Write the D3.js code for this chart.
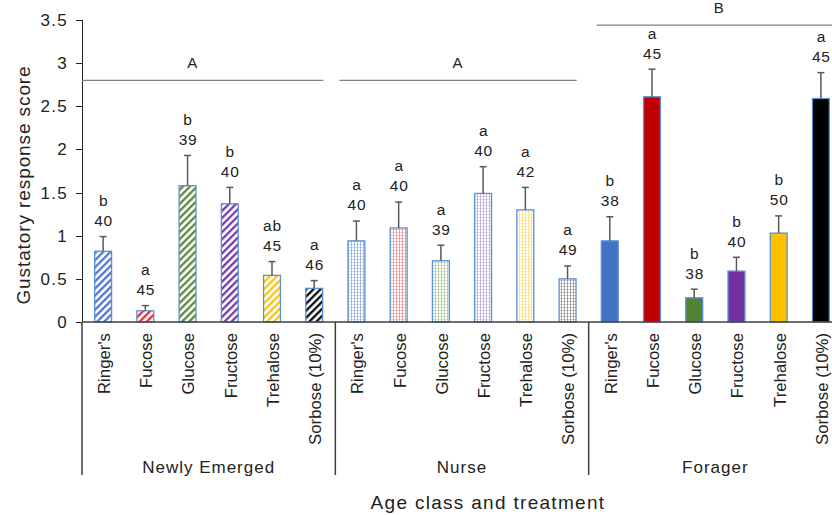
<!DOCTYPE html>
<html>
  <head>
    <meta charset="utf-8">
    <script src="https://cdn.jsdelivr.net/npm/d3@7"></script>
    <style type="text/css">
      body { margin: 0; background: #fff; }
      text { font-family: "Liberation Sans", Arial, sans-serif; fill: #222; }
      .axis path, .axis line { stroke: #222; shape-rendering: crispEdges; }
      .axis text { font-size: 17px; letter-spacing: 1.3px; }
    </style>
  </head>
  <body>
    <div class="plot_canvas"></div>
    <script>

    var groups = ["Newly Emerged", "Nurse", "Forager"];
    var treatments = ["Ringer's", "Fucose", "Glucose", "Fructose", "Trehalose", "Sorbose (10%)"];

    var newlyMean = [0.82, 0.13, 1.58, 1.37, 0.54, 0.39];
    var newlyErr  = [0.17, 0.06, 0.35, 0.19, 0.16, 0.09];
    var newlyN    = [40, 45, 39, 40, 45, 46];
    var newlySig  = ["b", "a", "b", "b", "ab", "a"];

    var nurseMean = [0.94, 1.09, 0.71, 1.49, 1.30, 0.50];
    var nurseErr  = [0.23, 0.30, 0.18, 0.31, 0.26, 0.15];
    var nurseN    = [40, 40, 39, 40, 42, 49];
    var nurseSig  = ["a", "a", "a", "a", "a", "a"];

    var foragerMean = [0.94, 2.61, 0.28, 0.59, 1.03, 2.59];
    var foragerErr  = [0.28, 0.32, 0.10, 0.16, 0.20, 0.30];
    var foragerN    = [38, 45, 38, 40, 50, 45];
    var foragerSig  = ["b", "a", "b", "b", "b", "a"];

    var groupLetters = ["A", "A", "B"];
    var groupLineAt  = [2.8, 2.8, 3.44];

    var yTicks = [0, 0.5, 1, 1.5, 2, 2.5, 3, 3.5];

    // colours per treatment
    var solidColors = ["#4472C4", "#C00000", "#548235", "#7030A0", "#FFC000", "#000000"];
    var hatchColors = ["#4472C4", "#E0202A", "#548235", "#7030A0", "#FFC000", "#000000"];
    var dotColors   = ["#6f93d6", "#e06666", "#8fb873", "#a58fd0", "#ffd24d", "#707070"];

    // build rows
    var means = [newlyMean, nurseMean, foragerMean];
    var errs = [newlyErr, nurseErr, foragerErr];
    var ns = [newlyN, nurseN, foragerN];
    var sigs = [newlySig, nurseSig, foragerSig];
    var rows = [];
    groups.forEach(function(g, gi) {
      treatments.forEach(function(t, ti) {
        rows.push({id: g + "|" + t, group: g, gi: gi, treat: t, ti: ti,
          mean: means[gi][ti], err: errs[gi][ti], n: ns[gi][ti], sig: sigs[gi][ti]});
      });
    });

    var W = 832, H = 515;
    var plotL = 82, plotR = 842, plotT = 20, plotB = 322;

    var xScale = d3.scaleBand()
      .domain(rows.map(function(d) { return d.id; }))
      .range([plotL, plotR])
      .paddingInner(0.6)
      .paddingOuter(0.3);

    var gScale = d3.scaleBand()
      .domain(groups)
      .range([plotL, plotR]);

    var yScale = d3.scaleLinear()
      .domain([0, 3.5])
      .range([plotB, plotT]);

    var svg = d3.select(".plot_canvas")
      .append("svg")
      .attr("width", W)
      .attr("height", H);

    // patterns
    var defs = svg.append("defs");
    hatchColors.forEach(function(c, i) {
      var p = defs.append("pattern")
        .attr("id", "hatch" + i)
        .attr("patternUnits", "userSpaceOnUse")
        .attr("width", 5).attr("height", 5)
        .attr("patternTransform", "rotate(45)");
      p.append("rect").attr("width", 5).attr("height", 5).attr("fill", "#fff");
      p.append("line").attr("x1", 1.2).attr("x2", 1.2).attr("y1", 0).attr("y2", 5)
        .attr("stroke", c).attr("stroke-width", 2.2);
    });
    dotColors.forEach(function(c, i) {
      var p = defs.append("pattern")
        .attr("id", "dots" + i)
        .attr("patternUnits", "userSpaceOnUse")
        .attr("width", 3).attr("height", 3);
      p.append("rect").attr("width", 3).attr("height", 3).attr("fill", "#fff");
      p.append("rect").attr("x", 0).attr("width", 1).attr("height", 3).attr("fill", c).attr("opacity", 0.6);
      p.append("rect").attr("y", 1).attr("width", 3).attr("height", 1).attr("fill", c).attr("opacity", 0.35);
    });

    function fillFor(d) {
      if (d.gi == 0) return "url(#hatch" + d.ti + ")";
      if (d.gi == 1) return "url(#dots" + d.ti + ")";
      return solidColors[d.ti];
    }

    // y axis
    svg.append("g")
      .attr("class", "axis")
      .attr("transform", "translate(" + plotL + ",0)")
      .call(d3.axisLeft(yScale).tickValues(yTicks).tickSize(6).tickPadding(8).tickFormat(d3.format("")))
      .call(function(g) { g.select(".domain").attr("d", "M0," + yScale(3.5) + "V" + plotB); });

    // group significance lines
    var sigG = svg.append("g");
    groups.forEach(function(g, gi) {
      var x0 = gScale(g) + (gi == 0 ? 0 : 4) + (gi == 2 ? 4 : 0);
      var x1 = gScale(g) + gScale.bandwidth() - 12;
      if (gi == 2) x1 = plotR;
      sigG.append("line")
        .attr("x1", x0).attr("x2", x1)
        .attr("y1", yScale(groupLineAt[gi])).attr("y2", yScale(groupLineAt[gi]))
        .attr("stroke", "#808080").attr("stroke-width", 1.2);
      sigG.append("text")
        .attr("x", (x0 + x1) / 2 - (gi == 0 ? 10 : 0))
        .attr("y", yScale(groupLineAt[gi]) - 12)
        .attr("text-anchor", "middle")
        .style("font-size", "15px")
        .style("letter-spacing", "1px")
        .text(groupLetters[gi]);
    });

    // bars
    svg.append("g").selectAll("rect")
      .data(rows).enter()
      .append("rect")
      .attr("x", function(d) { return xScale(d.id); })
      .attr("y", function(d) { return yScale(d.mean); })
      .attr("width", xScale.bandwidth())
      .attr("height", function(d) { return plotB - yScale(d.mean); })
      .attr("fill", fillFor)
      .attr("stroke", "#5B8FD6")
      .attr("stroke-width", 1.3);

    // error bars (upper only)
    var eb = svg.append("g").attr("stroke", "#595959").attr("stroke-width", 1.5);
    eb.selectAll("line.v")
      .data(rows).enter()
      .append("line").attr("class", "v")
      .attr("x1", function(d) { return xScale(d.id) + xScale.bandwidth() / 2; })
      .attr("x2", function(d) { return xScale(d.id) + xScale.bandwidth() / 2; })
      .attr("y1", function(d) { return yScale(d.mean); })
      .attr("y2", function(d) { return yScale(d.mean + d.err); });
    eb.selectAll("line.c")
      .data(rows).enter()
      .append("line").attr("class", "c")
      .attr("x1", function(d) { return xScale(d.id) + xScale.bandwidth() / 2 - 3.5; })
      .attr("x2", function(d) { return xScale(d.id) + xScale.bandwidth() / 2 + 3.5; })
      .attr("y1", function(d) { return yScale(d.mean + d.err); })
      .attr("y2", function(d) { return yScale(d.mean + d.err); });

    // n and letters
    var lab = svg.append("g").attr("text-anchor", "middle").style("font-size", "15.5px").style("letter-spacing", "0.8px");
    lab.selectAll("text.n")
      .data(rows).enter()
      .append("text").attr("class", "n")
      .attr("x", function(d) { return xScale(d.id) + xScale.bandwidth() / 2 + 0.5; })
      .attr("y", function(d) { return yScale(d.mean + d.err) - 16; })
      .attr("dy", "0.35em")
      .text(function(d) { return d.n; });
    lab.selectAll("text.s")
      .data(rows).enter()
      .append("text").attr("class", "s")
      .attr("x", function(d) { return xScale(d.id) + xScale.bandwidth() / 2 + 0.5; })
      .attr("y", function(d) { return yScale(d.mean + d.err) - 36; })
      .attr("dy", "0.35em")
      .text(function(d) { return d.sig; });

    // x axis line + group separators
    svg.append("line")
      .attr("x1", plotL).attr("x2", plotR)
      .attr("y1", plotB).attr("y2", plotB)
      .attr("stroke", "#404040").attr("stroke-width", 1.5);
    var seps = groups.map(function(g) { return gScale(g); }).concat([plotR]);
    svg.append("g").selectAll("line")
      .data(seps).enter()
      .append("line")
      .attr("x1", function(d) { return d; }).attr("x2", function(d) { return d; })
      .attr("y1", plotB).attr("y2", 475)
      .attr("stroke", "#404040").attr("stroke-width", 1.5);

    // category labels
    svg.append("g").selectAll("text")
      .data(rows).enter()
      .append("text")
      .attr("transform", function(d) {
        return "translate(" + (xScale(d.id) + xScale.bandwidth() / 2 + 1) + ",333) rotate(-90)";
      })
      .attr("text-anchor", "end")
      .attr("dy", "0.35em")
      .style("font-size", "16.8px")
      .text(function(d) { return d.treat; });

    // group labels
    svg.append("g").selectAll("text")
      .data(groups).enter()
      .append("text")
      .attr("x", function(d) { return gScale(d) + gScale.bandwidth() / 2; })
      .attr("y", 473)
      .attr("text-anchor", "middle")
      .style("font-size", "17px")
      .style("letter-spacing", "1px")
      .text(function(d) { return d; });

    // axis titles
    svg.append("text")
      .attr("x", 488).attr("y", 509)
      .attr("text-anchor", "middle")
      .style("font-size", "19px")
      .style("letter-spacing", "1.3px")
      .text("Age class and treatment");

    svg.append("text")
      .attr("transform", "translate(23,185) rotate(-90)")
      .attr("text-anchor", "middle")
      .attr("dy", "0.35em")
      .style("font-size", "19px")
      .style("letter-spacing", "0.9px")
      .text("Gustatory response score");

  </script>
</body>
</html>
